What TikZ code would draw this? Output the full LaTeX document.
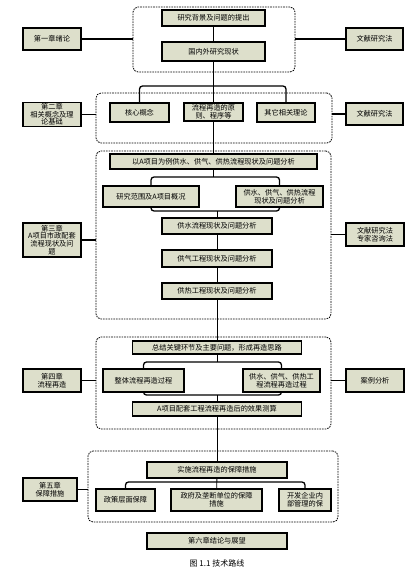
\documentclass[tikz,border=0pt]{standalone}
\usepackage{fontspec}
\newfontfamily\cjk{Noto Sans CJK SC}
\usetikzlibrary{positioning,backgrounds}
\definecolor{boxfill}{HTML}{DDDFCB}

\begin{document}
\begin{tikzpicture}[x=1pt,y=-1pt,
   box/.style={draw,line width=1.5pt,fill=boxfill,inner sep=1pt,align=center,
     font=\cjk\fontsize{7.2}{8.4}\selectfont},
   wh/.style 2 args={minimum width=#1pt,minimum height=#2pt},
   grp/.style={draw,line width=0.8pt,dash pattern=on 1.6pt off 1pt,rounded corners=5pt},
   lnk/.style={line width=1.6pt},
   trunk/.style={line width=0.9pt},
   brk/.style={line width=1.3pt,rounded corners=3pt}]
  \useasboundingbox (0,0) rectangle (418,573);

  % dashed groups
  \node[grp,wh={162}{65}]  (g1) at (214,39.5) {};
  \node[grp,wh={236}{50}]  (g2) at (214,118) {};
  \node[grp,wh={235}{168}] (g3) at (213.5,235) {};
  \node[grp,wh={235}{92}]  (g4) at (213.5,383) {};
  \node[grp,wh={250}{71}]  (g5) at (213,486.5) {};

  % chapter 1
  \node[box,wh={103}{16}] (n11) at (213.5,18) {研究背景及问题的提出};
  \node[box,wh={103}{19}] (n12) at (213.5,51.5) {国内外研究现状};
  \node[box,wh={58}{22}]  (ch1) at (52,39) {第一章绪论};
  \node[box,wh={57}{22}]  (m1)  at (374.5,39) {文献研究法};

  % chapter 2
  \node[box,wh={59}{19}] (n21) at (139.5,112.5) {核心概念};
  \node[box,wh={59}{18}] (n22) at (213.5,112) {流程再造的原\\则、程序等};
  \node[box,wh={58}{19}] (n23) at (286,112.5) {其它相关理论};
  \node[box,wh={58}{23},font=\cjk\fontsize{7.2}{7.6}\selectfont] (ch2) at (52,114.5) {第二章\\相关概念及理\\论基础};
  \node[box,wh={57}{22}] (m2) at (374.5,114) {文献研究法};
  \coordinate (b2) at (213.5,86);

  % chapter 3
  \node[box,wh={207}{15}] (n31) at (213.5,161.5) {以A项目为例供水、供气、供热流程现状及问题分析};
  \node[box,wh={96}{21}]  (n32) at (151,196.5) {研究范围及A项目概况};
  \node[box,wh={87}{21}]  (n33) at (279.5,196.5) {供水、供气、供热流程\\现状及问题分析};
  \node[box,wh={110}{16}] (n34) at (217,226) {供水流程现状及问题分析};
  \node[box,wh={110}{17}] (n35) at (217,258.5) {供气工程现状及问题分析};
  \node[box,wh={110}{16}] (n36) at (217,291) {供热工程现状及问题分析};
  \node[box,wh={58}{34},font=\cjk\fontsize{7.2}{7.8}\selectfont] (ch3) at (52,240) {第三章\\A项目市政配套\\流程现状及问\\题};
  \node[box,wh={58}{23}] (m3) at (375,234.5) {文献研究法\\专家咨询法};
  \coordinate (b3t) at (214,177);
  \coordinate (b3b) at (217,211);

  % chapter 4
  \node[box,wh={169}{13}] (n41) at (217,347.5) {总结关键环节及主要问题，形成再造思路};
  \node[box,wh={81}{23}]  (n42) at (143.5,380.5) {整体流程再造过程};
  \node[box,wh={77}{23}]  (n43) at (281.5,380.5) {供水、供气、供热工\\程流程再造过程};
  \node[box,wh={169}{14}] (n44) at (217,409) {A项目配套工程流程再造后的效果测算};
  \node[box,wh={58}{23}]  (ch4) at (52,380.5) {第四章\\流程再造};
  \node[box,wh={58}{23}]  (m4)  at (375,380.5) {案例分析};
  \coordinate (b4t) at (217,362);
  \coordinate (b4b) at (217,395);

  % chapter 5 and 6
  \node[box,wh={140}{16}] (n51) at (217,470) {实施流程再造的保障措施};
  \node[box,wh={59}{22}]  (n52) at (125.5,500) {政策层面保障};
  \node[box,wh={91}{22}]  (n53) at (216.5,500) {政府及垄断单位的保障\\措施};
  \node[box,wh={52}{22}]  (n54) at (305,500) {开发企业内\\部管理的保};
  \node[box,wh={54}{23}]  (ch5) at (50,489.5) {第五章\\保障措施};
  \node[box,wh={140}{16}] (n61) at (217,541) {第六章结论与展望};
  \coordinate (b5) at (217,482);

  \node[font=\cjk\fontsize{8}{9}\selectfont] (cap) at (217,563) {图 1.1 技术路线};

  % white page and brackets behind the boxes
  \begin{scope}[on background layer]
    \fill[white] (0,0) rectangle (418,573);
    \draw[brk] (n32.center) |- (b3t) -| (n33.center) |- (b3b) -| (n32.center);
    \draw[brk] (n42.center) |- (b4t) -| (n43.center) |- (b4b) -| (n42.center);
  \end{scope}
  \draw[brk] (n21.north) |- (b2) -| (n23.north);
  \draw[brk] (n52.north) |- (b5) -| (n54.north);

  % trunk
  \draw[trunk] (n11) -- (n12);
  \draw[trunk] (n12) -- (n22);
  \draw[trunk] (n22.south) -- (n22.south |- n31.north);
  \draw[trunk] (n31.south) -- (n31.south |- b3t);
  \draw[trunk] (b3b) -- (n34);
  \draw[trunk] (n34) -- (n35);
  \draw[trunk] (n35) -- (n36);
  \draw[trunk] (n36) -- (n41);
  \draw[trunk] (n41) -- (b4t);
  \draw[trunk] (b4b) -- (n44);
  \draw[trunk] (n44) -- (n51);
  \draw[trunk] (n51) -- (n53);

  % side links
  \draw[lnk] (ch1.east) -- (ch1.east -| g1.west);
  \draw[lnk] (g1.east |- m1.west) -- (m1.west);
  \draw[lnk] (ch2.east) -- (ch2.east -| g2.west);
  \draw[lnk] (g2.east |- m2.west) -- (m2.west);
  \draw[lnk] (ch3.east) -- (ch3.east -| g3.west);
  \draw[lnk] (g3.east |- m3.west) -- (m3.west);
  \draw[lnk] (ch4.east) -- (ch4.east -| g4.west);
  \draw[lnk] (g4.east |- m4.west) -- (m4.west);
  \draw[lnk] (ch5.east) -- (ch5.east -| g5.west);
\end{tikzpicture}
\end{document}
